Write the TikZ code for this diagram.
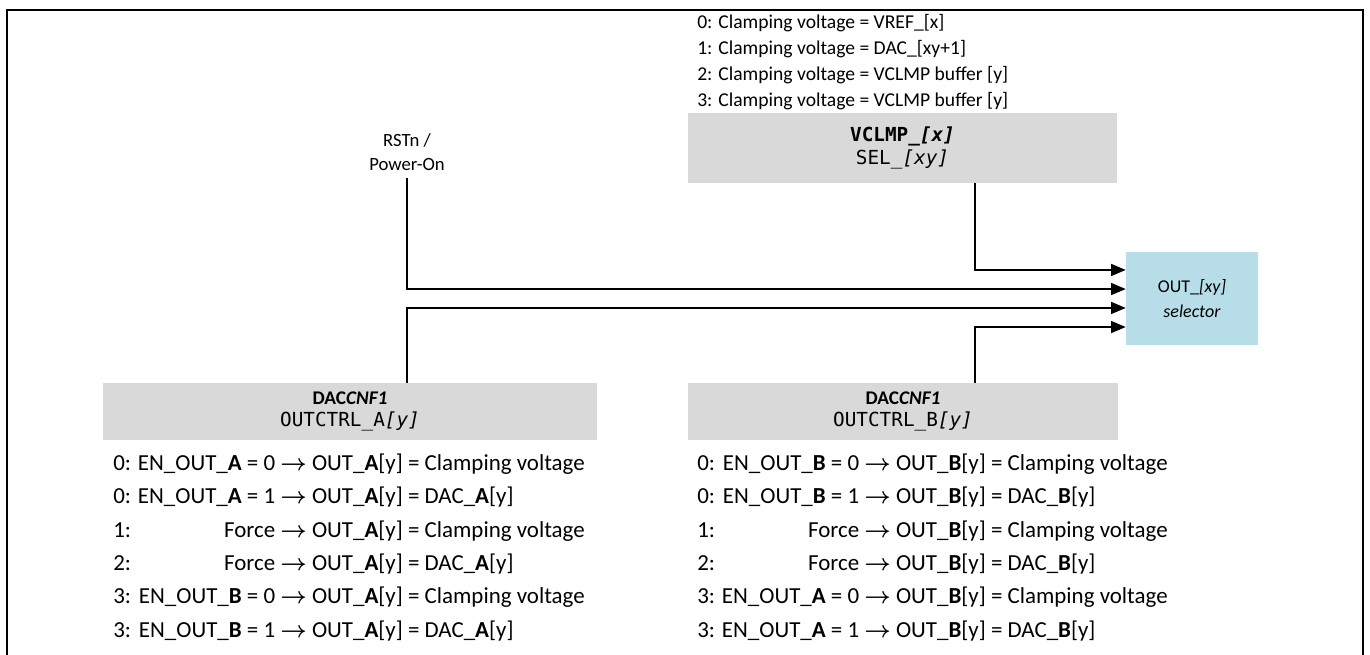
\documentclass[tikz,border=0pt]{standalone}
\usepackage{amsmath}
\usepackage{fontspec}
\setmainfont{Carlito}
\setmonofont{DejaVu Sans Mono}
\usetikzlibrary{positioning, calc, arrows.meta}

\newcommand{\outarrow}{$\boldsymbol{\rightarrow}$}
\newcommand{\bA}{\textbf{A}}
\newcommand{\bB}{\textbf{B}}

\definecolor{selblue}{RGB}{182,221,232}
\tikzset{
  regbox/.style={fill=black!15, inner sep=0pt, align=center, font=\fontsize{14.5}{17}\selectfont},
  selbox/.style={fill=selblue, inner sep=0pt, align=center, font=\fontsize{13.5}{18.5}\selectfont},
  rowtext/.style={anchor=north west, inner sep=0pt, font=\fontsize{17.2}{25}\selectfont},
  conn/.style={line width=1.1pt, -{Triangle[length=11pt,width=9pt]}},
}

\begin{document}
\begin{tikzpicture}[x=0.75pt, y=-0.75pt]

    % --- CANVAS & FRAME ---
    \useasboundingbox (0,0) rectangle (1370,655);
    \draw[line width=1.5pt] (7,655) -- (7,10) -- (1363,10) -- (1363,655);

    % --- TOP: CLAMPING VOLTAGE CHOICES ---
    \node[anchor=north west, inner sep=0pt, align=left, font=\fontsize{14.7}{19.5}\selectfont] (clamp) at (697,14) {%
      0: Clamping voltage = VREF\_[x]\\
      1: Clamping voltage = DAC\_[xy+1]\\
      2: Clamping voltage = VCLMP buffer [y]\\
      3: Clamping voltage = VCLMP buffer [y]};

    % --- REGISTER BOXES ---
    \node[regbox, minimum width=321.75pt, minimum height=52.5pt] (vclmp) at (902.5,148)
      {{\ttfamily\bfseries VCLMP\_\textit{[x]}}\\{\ttfamily SEL\_\textit{[xy]}}};
    \node[regbox, minimum width=370.5pt, minimum height=42.75pt] (dacA) at (350,411.5)
      {\textbf{DAC\textit{CNF1}}\\{\ttfamily OUTCTRL\_A\textit{[y]}}};
    \node[regbox, minimum width=322.5pt, minimum height=42.75pt] (dacB) at (903,411.5)
      {\textbf{DAC\textit{CNF1}}\\{\ttfamily OUTCTRL\_B\textit{[y]}}};

    % --- RESET INPUT & SELECTOR ---
    \node[align=center, inner sep=0pt, font=\fontsize{14}{17.5}\selectfont] (rst) at (407,152) {RSTn /\\Power-On};
    \node[selbox, minimum width=99pt, minimum height=69.75pt] (sel) at (1192,298.5)
      {OUT\_\textit{[xy]}\\\textit{selector}};

    % --- INPUTS TO SELECTOR ---
    \draw[conn] (vclmp.south -| 975,0) |- ([yshift=21.4pt]sel.west);
    \draw[conn] ([yshift=-6pt]rst.south) |- ([yshift=7.1pt]sel.west);
    \draw[conn] (dacA.north -| 407,0) |- ([yshift=-7.1pt]sel.west);
    \draw[conn] (dacB.north -| 975,0) |- ([yshift=-21.4pt]sel.west);

    % --- OUTCTRL TABLES ---
    \node[rowtext] (tabA) at (113,447) {%
      \begin{tabular}{@{}l@{ }r@{ }l@{}}
        0: & EN\_OUT\_\bA{} = 0 & \outarrow{} OUT\_\bA[y] = Clamping voltage\\
        0: & EN\_OUT\_\bA{} = 1 & \outarrow{} OUT\_\bA[y] = DAC\_\bA[y]\\
        1: & Force & \outarrow{} OUT\_\bA[y] = Clamping voltage\\
        2: & Force & \outarrow{} OUT\_\bA[y] = DAC\_\bA[y]\\
        3: & EN\_OUT\_\bB{} = 0 & \outarrow{} OUT\_\bA[y] = Clamping voltage\\
        3: & EN\_OUT\_\bB{} = 1 & \outarrow{} OUT\_\bA[y] = DAC\_\bA[y]
      \end{tabular}};
    \node[rowtext] (tabB) at (697,447) {%
      \begin{tabular}{@{}l@{ }r@{ }l@{}}
        0: & EN\_OUT\_\bB{} = 0 & \outarrow{} OUT\_\bB[y] = Clamping voltage\\
        0: & EN\_OUT\_\bB{} = 1 & \outarrow{} OUT\_\bB[y] = DAC\_\bB[y]\\
        1: & Force & \outarrow{} OUT\_\bB[y] = Clamping voltage\\
        2: & Force & \outarrow{} OUT\_\bB[y] = DAC\_\bB[y]\\
        3: & EN\_OUT\_\bA{} = 0 & \outarrow{} OUT\_\bB[y] = Clamping voltage\\
        3: & EN\_OUT\_\bA{} = 1 & \outarrow{} OUT\_\bB[y] = DAC\_\bB[y]
      \end{tabular}};

\end{tikzpicture}
\end{document}
